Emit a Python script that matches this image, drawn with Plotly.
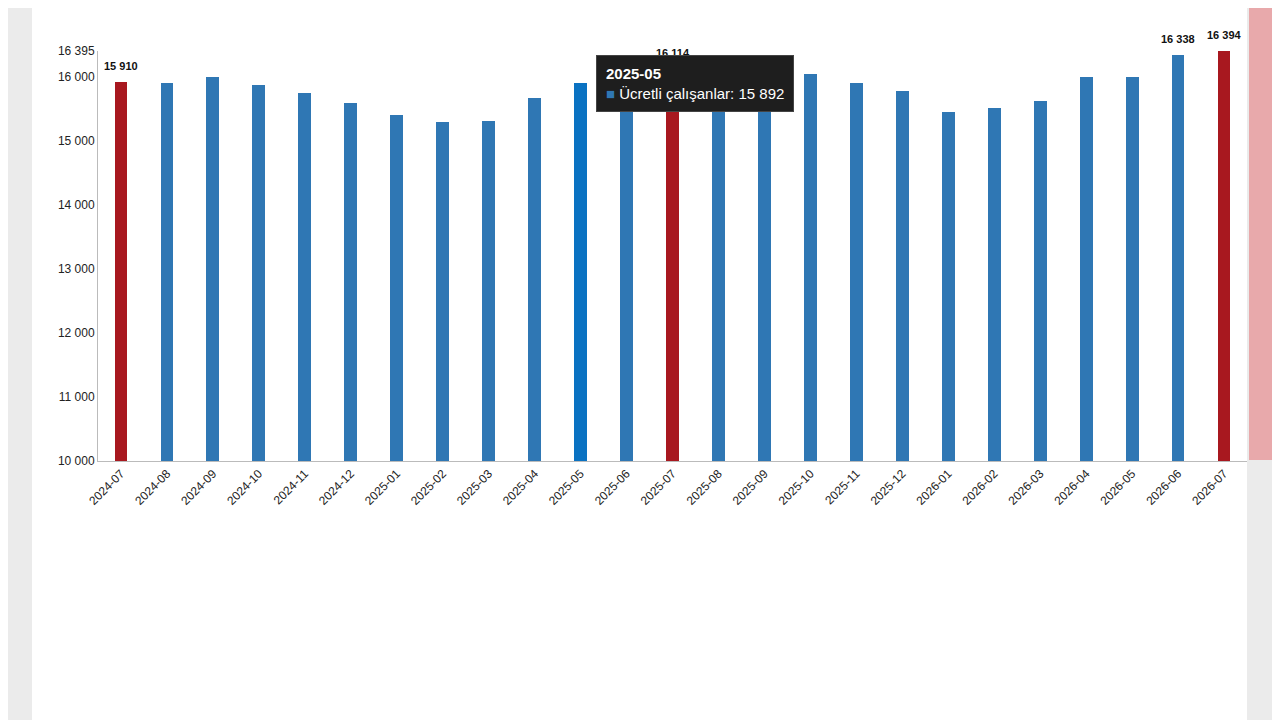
import plotly.graph_objects as go

months = ["2024-07", "2024-08", "2024-09", "2024-10", "2024-11", "2024-12",
          "2025-01", "2025-02", "2025-03", "2025-04", "2025-05", "2025-06",
          "2025-07", "2025-08", "2025-09", "2025-10", "2025-11", "2025-12",
          "2026-01", "2026-02", "2026-03", "2026-04", "2026-05", "2026-06", "2026-07"]
values = [15910, 15895, 15985, 15860, 15735, 15580, 15390, 15285, 15310, 15655,
          15892, 15960, 16114, 16060, 16150, 16030, 15890, 15770, 15440, 15500,
          15610, 15985, 15990, 16338, 16394]
labelled = ["2024-07", "2025-07", "2026-06", "2026-07"]
red_months = {"2024-07", "2025-07", "2026-07"}
y_ticks = [10000, 11000, 12000, 13000, 14000, 15000, 16000, 16395]

def fmt(v):
    return f"{v:,}".replace(",", " ")

colors = []
for m in months:
    if m in red_months:
        colors.append("#A8181F")
    elif m == "2025-05":
        colors.append("#0A72C2")
    else:
        colors.append("#2F77B4")

fig = go.Figure()
fig.add_trace(go.Bar(
    x=months, y=values, width=0.28,
    marker=dict(color=colors, line=dict(width=0)),
    name="Ücretli çalışanlar",
))

annotations = []
for m in labelled:
    v = values[months.index(m)]
    annotations.append(dict(
        x=m, y=v, xref="x", yref="y", yanchor="bottom", showarrow=False,
        text="<b>" + fmt(v) + "</b>", yshift=8,
        font=dict(size=11, color="#111", family="Liberation Sans")))
annotations.append(dict(
    x=0.4335, y=0.99, xref="paper", yref="paper", xanchor="left", yanchor="top",
    align="left", showarrow=False,
    text="<b>2025-05</b><br><span style='color:#2F77B4'>■</span> Ücretli çalışanlar: 15 892",
    bgcolor="#1E1E1E", bordercolor="#444", borderpad=9,
    font=dict(color="white", size=15, family="Liberation Sans"),
))

# plot area: 1149 x 410 px
fig.update_layout(
    width=1280, height=720,
    paper_bgcolor="#EBEBEB", plot_bgcolor="white",
    margin=dict(l=90, r=41, t=43, b=267),
    showlegend=False, bargap=0,
    font=dict(family="Liberation Sans", size=12, color="#222"),
    xaxis=dict(type="category", tickangle=-45, showline=True, linecolor="#BBBBBB",
               ticks="", showgrid=False, tickfont=dict(size=12)),
    yaxis=dict(range=[10000, 16395], tickvals=y_ticks,
               ticktext=[fmt(t) for t in y_ticks], showgrid=False,
               showline=True, linecolor="#BBBBBB", ticks="",
               tickfont=dict(size=12)),
    shapes=[
        dict(type="rect", xref="paper", yref="paper", layer="below",
             x0=-66/1149, x1=1, y0=-267/410, y1=1 + 43/410,
             fillcolor="white", line=dict(width=0)),
        dict(type="rect", xref="paper", yref="paper", layer="below",
             x0=1151/1149, x1=1190/1149, y0=1/410, y1=1 + 43/410,
             fillcolor="#E8A9AB", line=dict(width=0)),
    ],
    annotations=annotations,
)

fig.write_html("out.html")
